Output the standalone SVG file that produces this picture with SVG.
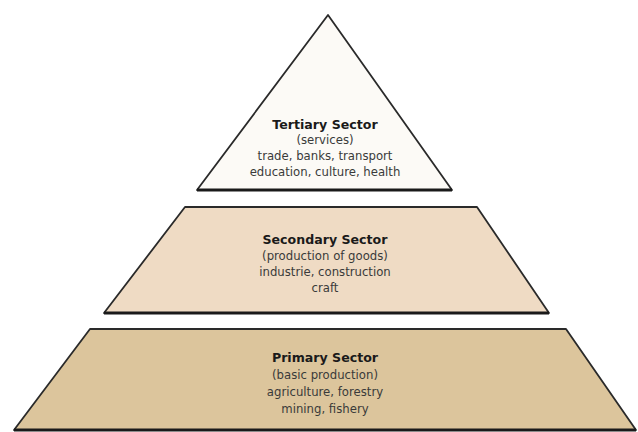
<svg xmlns="http://www.w3.org/2000/svg" width="638" height="432" viewBox="0 0 638 432">
<style>
.shape{stroke:#2a2a2a;stroke-width:1.8;stroke-linejoin:round}
.base{stroke:#1a1a1a;stroke-width:3}
.t{font-family:"DejaVu Sans",Verdana,sans-serif;font-size:11.7px;fill:#3a3a3a;text-anchor:middle}
.h{font-weight:bold;font-size:12.6px;fill:#1a1a1a}
</style>
<rect width="638" height="432" fill="#ffffff"/>
<g id="tertiary">
<polygon class="shape" points="328,15 452,190 197,190" fill="#fcfaf6"/>
<line class="base" x1="197" y1="190" x2="452" y2="190"/>
<text class="t h" x="325" y="129">Tertiary Sector</text>
<text class="t" x="325" y="144">(services)</text>
<text class="t" x="325" y="160">trade, banks, transport</text>
<text class="t" x="325" y="176">education, culture, health</text>
</g>
<g id="secondary">
<polygon class="shape" points="185,207 477,207 549,313 104,313" fill="#efdbc4"/>
<line class="base" x1="104" y1="313" x2="549" y2="313"/>
<text class="t h" x="325" y="244">Secondary Sector</text>
<text class="t" x="325" y="260">(production of goods)</text>
<text class="t" x="325" y="276">industrie, construction</text>
<text class="t" x="325" y="292">craft</text>
</g>
<g id="primary">
<polygon class="shape" points="90,329 566,329 636,430 14,430" fill="#dcc59c"/>
<line class="base" x1="14" y1="430" x2="636" y2="430"/>
<text class="t h" x="325" y="362">Primary Sector</text>
<text class="t" x="325" y="379">(basic production)</text>
<text class="t" x="325" y="396">agriculture, forestry</text>
<text class="t" x="325" y="413">mining, fishery</text>
</g>
<g id="connectors"></g>
</svg>
